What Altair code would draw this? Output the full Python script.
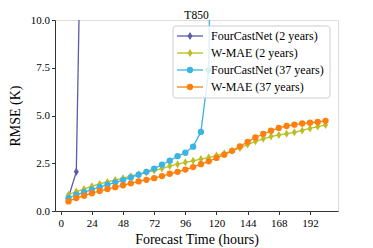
import altair as alt
import pandas as pd

FONT = "Liberation Serif, Times New Roman, serif"

hours = [6, 12, 18, 24, 30, 36, 42, 48, 54, 60, 66, 72, 78, 84, 90, 96, 102,
         108, 114, 120, 126, 132, 138, 144, 150, 156, 162, 168, 174, 180, 186,
         192, 198, 204]

fcn2_hours = [6, 12, 18]
fcn2_vals = [0.72, 2.05, 25.0]

wmae2_vals = [0.85, 1.02, 1.15, 1.30, 1.42, 1.52, 1.62, 1.72, 1.82, 1.92, 2.02,
              2.12, 2.22, 2.35, 2.45, 2.55, 2.63, 2.72, 2.80, 2.90, 3.02, 3.15,
              3.30, 3.48, 3.65, 3.78, 3.90, 3.98, 4.05, 4.12, 4.22, 4.32, 4.42,
              4.50]

fcn37_hours = [6, 12, 18, 24, 30, 36, 42, 48, 54, 60, 66, 72, 78, 84, 90, 96,
               102, 108, 114, 120]
fcn37_vals = [0.68, 0.85, 0.98, 1.12, 1.25, 1.38, 1.50, 1.62, 1.76, 1.90, 2.05,
              2.22, 2.42, 2.63, 2.87, 3.05, 3.37, 4.14, 7.38, 38.0]

wmae37_vals = [0.50, 0.68, 0.80, 0.93, 1.05, 1.15, 1.25, 1.35, 1.45, 1.55, 1.63,
               1.72, 1.83, 1.95, 2.05, 2.17, 2.30, 2.45, 2.60, 2.78, 2.95, 3.15,
               3.38, 3.62, 3.85, 4.03, 4.20, 4.35, 4.45, 4.52, 4.58, 4.62, 4.66,
               4.72]

names = ["FourCastNet (2 years)", "W-MAE (2 years)",
         "FourCastNet (37 years)", "W-MAE (37 years)"]
colors = ["#5c5ca8", "#bcbd22", "#3cb4e2", "#ff7f0e"]
THIN_DIAMOND = "M0,-1L0.62,0L0,1L-0.62,0Z"
shapes = [THIN_DIAMOND, THIN_DIAMOND, "circle", "circle"]
sizes = [64, 64, 40, 40]

x_ticks = [0, 24, 48, 72, 96, 120, 144, 168, 192]
y_ticks = [0, 2.5, 5, 7.5, 10]
chart_title = "T850"

series = [
    (fcn2_hours, fcn2_vals),
    (hours, wmae2_vals),
    (fcn37_hours, fcn37_vals),
    (hours, wmae37_vals),
]

xscale = alt.Scale(domain=[-4.4, 213.6], nice=False, zero=False)
yscale = alt.Scale(domain=[0, 10], nice=False)

xaxis = alt.Axis(values=x_ticks, title="Forecast Time (hours)", grid=False,
                 labelFont=FONT, titleFont=FONT, labelFontSize=11,
                 titleFontSize=14, titleFontWeight="normal", labelColor="black",
                 titleColor="black", tickSize=3.5, tickColor="#333",
                 domainColor="#333", labelPadding=3, titlePadding=4,
                 labelFlush=False)
yaxis = alt.Axis(values=y_ticks, format=".1f", title="RMSE (K)", grid=False,
                 labelFont=FONT, titleFont=FONT, labelFontSize=11,
                 titleFontSize=14, titleFontWeight="normal", labelColor="black",
                 titleColor="black", tickSize=3.5, tickColor="#333",
                 domainColor="#333", labelPadding=2, titlePadding=8,
                 labelFlush=False)

enc_x = alt.X("hour:Q", scale=xscale, axis=xaxis)
enc_y = alt.Y("rmse:Q", scale=yscale, axis=yaxis)

layers = []
for i, (hx, vals) in enumerate(series):
    df = pd.DataFrame({"hour": hx, "rmse": vals, "series": names[i]})
    base = alt.Chart(df)
    line = base.mark_line(clip=True, color=colors[i], strokeWidth=1.3).encode(
        x=enc_x, y=enc_y)
    pts = base.mark_point(clip=True, filled=True, opacity=1, color=colors[i],
                          shape=shapes[i], size=sizes[i]).encode(
        x=enc_x, y=enc_y)
    layers += [line, pts]

# manual legend (matplotlib style)
one = pd.DataFrame({"k": [0]})
layers.append(alt.Chart(one).mark_rect(
    fill="white", fillOpacity=0.8, stroke="#cccccc", strokeWidth=1,
    cornerRadius=3).encode(x=alt.value(118), x2=alt.value(275),
                           y=alt.value(6), y2=alt.value(78)))
row_y = [16, 33, 50, 67]
for i, nm in enumerate(names):
    d = pd.DataFrame({"name": [nm]})
    layers.append(alt.Chart(d).mark_rule(color=colors[i], strokeWidth=1.3).encode(
        x=alt.value(122), x2=alt.value(148), y=alt.value(row_y[i])))
    layers.append(alt.Chart(d).mark_point(filled=True, opacity=1, color=colors[i],
                                          shape=shapes[i], size=sizes[i]).encode(
        x=alt.value(135), y=alt.value(row_y[i])))
    layers.append(alt.Chart(d).mark_text(align="left", baseline="middle",
                                         font=FONT, fontSize=12,
                                         color="black").encode(
        x=alt.value(156), y=alt.value(row_y[i]), text="name:N"))

# chart title as a text mark above the plot area
layers.append(alt.Chart(pd.DataFrame({"t": [chart_title]})).mark_text(
    align="center", baseline="alphabetic", font=FONT, fontSize=11.5,
    color="black").encode(x=alt.value(141.5), y=alt.value(-1.5), text="t:N"))

chart = alt.layer(*layers).properties(
    width=283, height=191,
    autosize=alt.AutoSizeParams(type="none"),
    padding={"left": 47, "top": 12, "right": 27, "bottom": 37},
).configure_view(stroke="#333", strokeWidth=1).configure(background="white")

chart.save("out.html", embed_options={"renderer": "svg", "actions": False})
